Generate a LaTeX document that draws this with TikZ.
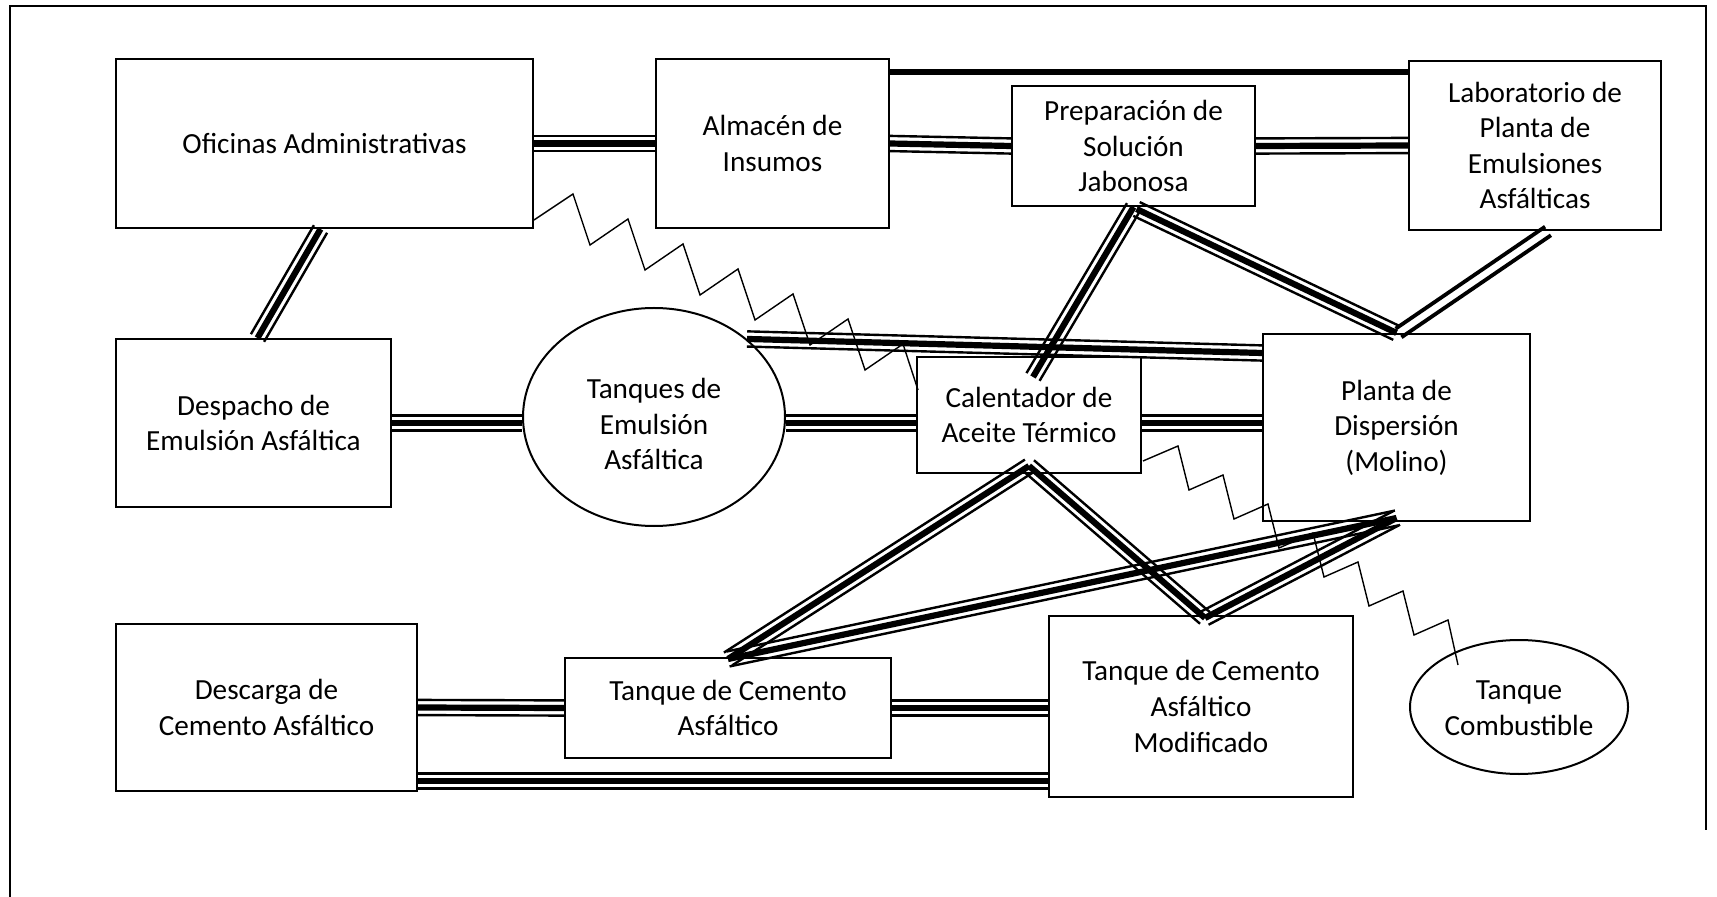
\documentclass[tikz,border=0pt]{standalone}
\usepackage{fontspec}
\setmainfont{Carlito}
\usetikzlibrary{calc,shapes.geometric}
\newcommand\tripline[2]{%
  \draw[thinl] ($(#1)!3.8pt!90:(#2)$) -- ($(#2)!3.8pt!-90:(#1)$);
  \draw[thickl] (#1) -- (#2);
  \draw[thinl] ($(#1)!3.8pt!-90:(#2)$) -- ($(#2)!3.8pt!90:(#1)$);}
\newcommand\dbline[2]{%
  \draw[dbl] ($(#1)!2.6pt!90:(#2)$) -- ($(#2)!2.6pt!-90:(#1)$);
  \draw[dbl] ($(#1)!2.6pt!-90:(#2)$) -- ($(#2)!2.6pt!90:(#1)$);}
\begin{document}
\begin{tikzpicture}[x=0.5pt,y=-0.5pt,
  txt/.style={inner sep=0pt, align=center, font=\fontsize{14.6pt}{17.8pt}\selectfont},
  box/.style={txt, draw, line width=1pt},
  oval/.style={draw, line width=1pt, ellipse, inner sep=0pt},
  thinl/.style={line width=1.2pt},
  thickl/.style={line width=3.1pt},
  dbl/.style={line width=1.9pt},
  zig/.style={line width=0.7pt, line join=miter},
  frame/.style={line width=1pt}]
\useasboundingbox (0,0) rectangle (1717,897);
\fill[white] (0,0) rectangle (1717,897);
\draw[frame] (10,897) -- (10,6) -- (1706,6) -- (1706,830);

% boxes
\node[box, minimum width=208.5pt, minimum height=84.5pt] (of) at (324.5,143.5) {Oficinas Administrativas};
\node[box, minimum width=116.5pt, minimum height=84.5pt] (al) at (772.5,143.5) {Almacén de\\Insumos};
\node[box, minimum width=121.5pt, minimum height=60pt] (pr) at (1133.5,146) {Preparación de\\Solución\\Jabonosa};
\node[box, minimum width=126pt, minimum height=84.5pt] (lb) at (1535,145.5) {Laboratorio de\\Planta de\\Emulsiones\\Asfálticas};
\node[box, minimum width=137.5pt, minimum height=84pt] (de) at (253.5,423) {Despacho de\\Emulsión Asfáltica};
\node[oval, minimum width=131pt, minimum height=109pt] (tq) at (654,417) {};
\node[txt] (tqt) at (654,424) {Tanques de\\Emulsión\\Asfáltica};
\node[box, minimum width=112pt, minimum height=58pt] (ca) at (1029,415) {Calentador de\\Aceite Térmico};
\node[box, minimum width=133.5pt, minimum height=93.5pt] (pl) at (1396.5,427.5) {Planta de\\Dispersión\\(Molino)};
\node[box, minimum width=150.5pt, minimum height=83.5pt] (dc) at (266.5,707.5) {Descarga de\\Cemento Asfáltico};
\node[box, minimum width=163pt, minimum height=50pt] (tc) at (728,708) {Tanque de Cemento\\Asfáltico};
\node[box, minimum width=152pt, minimum height=90.5pt] (md) at (1201,706.5) {Tanque de Cemento\\Asfáltico\\Modificado};
\node[oval, minimum width=109pt, minimum height=67pt] (cm) at (1519,707) {};
\node[txt] (cmt) at (1519,708) {Tanque\\Combustible};

% coordinates for connector ends
\coordinate (b1) at ($(al.north east)+(0,14)$);
\coordinate (b2) at (lb.west |- b1);
\coordinate (e1) at ($(of.south)+(-4,0)$);
\coordinate (e2) at ($(de.north)+(4,0)$);
\coordinate (f2) at (tq.west |- de.east);
\coordinate (g1) at (tq.east |- de.east);
\coordinate (g2) at (ca.west |- de.east);
\coordinate (h1) at (ca.east |- de.east);
\coordinate (h2) at (pl.west |- de.east);
\coordinate (i1) at (tq.40);
\coordinate (i2) at ($(pl.north west)+(0,20)$);
\coordinate (j2) at ($(ca.north)+(4,21)$);
\coordinate (k1) at ($(pr.south)+(3,2)$);
\coordinate (l1) at ($(lb.south)+(13,0)$);
\coordinate (l2) at ($(pl.north)+(2,0)$);
\coordinate (cb) at ($(ca.south)+(0,-8)$);
\coordinate (tt) at ($(tc.north)+(0,2)$);
\coordinate (mt) at ($(md.north)+(4,3)$);
\coordinate (pb) at ($(pl.south)+(0,-4)$);
\coordinate (r2) at (md.west |- tc.east);
\coordinate (s1) at ($(dc.south east)+(0,-11)$);
\coordinate (s2) at (md.west |- s1);

% connectors
\draw[line width=3.2pt] (b1) -- (b2);
\tripline{of.east}{al.west}
\tripline{al.east}{pr.west}
\tripline{pr.east}{lb.west}
\tripline{e1}{e2}
\tripline{de.east}{f2}
\tripline{g1}{g2}
\tripline{h1}{h2}
\tripline{i1}{i2}
\tripline{pr.south}{j2}
\tripline{k1}{pl.north}
\dbline{l1}{l2}
\tripline{cb}{tt}
\tripline{cb}{mt}
\tripline{tt}{pb}
\tripline{mt}{pb}
\tripline{dc.east}{tc.west}
\tripline{tc.east}{r2}
\tripline{s1}{s2}

% zigzag connectors
\draw[zig] ($(of.south east)+(0,-9)$) -- ++(39,-26)
  \foreach \k in {1,...,6} { -- ++(17,51) -- ++(38,-26) } -- ++(15,46);
\draw[zig] ($(ca.south east)+(1,-13)$) -- ++(35,-15)
  \foreach \k in {1,...,6} { -- ++(11,44) -- ++(34,-15) } -- ++(10,45);
\end{tikzpicture}
\end{document}
